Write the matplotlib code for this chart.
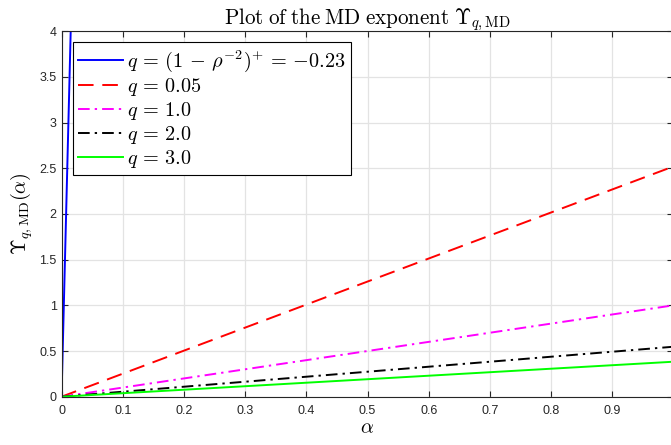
import matplotlib
matplotlib.use('Agg')
import matplotlib.pyplot as plt

plt.rcParams['mathtext.fontset'] = 'cm'
plt.rcParams['font.family'] = ['Liberation Sans', 'DejaVu Sans']

# exponent values read at alpha = 0 and alpha = 1 (curves are straight lines)
alpha = [0.0, 1.0]
y_neg = [0.0, 267.0]     # q = (1-rho^-2)^+ = -0.23, leaves the box almost at once
y_005 = [0.0, 2.52]
y_1 = [0.0, 1.0]
y_2 = [0.0, 0.547]
y_3 = [0.0, 0.383]

labels = [r'$q\,=\,(1\,-\,\rho^{-2})^{+}\,=\,{-}0.23$', r'$q\,=\,0.05$', r'$q\,=\,1.0$',
          r'$q\,=\,2.0$', r'$q\,=\,3.0$']

fig = plt.figure(figsize=(6.71, 4.45), dpi=100)
ax = fig.add_axes([0.0917, 0.1085, 0.912, 0.8215])

ax.plot(alpha, y_neg, color='#0000ff', lw=1.4, label=labels[0])
ax.plot(alpha, y_005, color='#ff0000', lw=1.4, dashes=(8, 4.5), label=labels[1])
ax.plot(alpha, y_1, color='#ff00ff', lw=1.4, dashes=(6, 2.6, 1.2, 2.6), label=labels[2])
ax.plot(alpha, y_2, color='black', lw=1.4, dashes=(6, 2.6, 1.2, 2.6), label=labels[3])
ax.plot(alpha, y_3, color='#00ff00', lw=1.4, label=labels[4])

ax.set_xlim(0, 1)
ax.set_ylim(0, 4)
ax.set_xticks([0, 0.1, 0.2, 0.3, 0.4, 0.5, 0.6, 0.7, 0.8, 0.9, 1])
ax.set_xticklabels(['0', '0.1', '0.2', '0.3', '0.4', '0.5', '0.6', '0.7', '0.8', '0.9', '1'])
ax.set_yticks([0, 0.5, 1, 1.5, 2, 2.5, 3, 3.5, 4])
ax.set_yticklabels(['0', '0.5', '1', '1.5', '2', '2.5', '3', '3.5', '4'])

ax.grid(True, color='#e3e3e3', lw=0.9)
ax.set_axisbelow(True)
for s in ax.spines.values():
    s.set_color('#262626')
    s.set_linewidth(0.8)
ax.tick_params(direction='in', length=4, width=0.8, colors='#262626',
               labelsize=9, top=True, right=True)
ax.tick_params(axis='x', pad=6)

ax.set_title(r'$\mathrm{Plot\;of\;the\;MD\;exponent}\;\Upsilon_{q,\mathrm{MD}}$',
             fontsize=15.2, pad=5)
ax.set_xlabel(r'$\alpha$', fontsize=14.5, labelpad=1)
ax.set_ylabel(r'$\Upsilon_{q,\mathrm{MD}}(\alpha)$', fontsize=14.5, labelpad=3)

leg = ax.legend(loc='upper left', fontsize=14.6, frameon=True, fancybox=False,
                edgecolor='black', framealpha=1, handlelength=2.2,
                handletextpad=0.2, borderpad=0.28, labelspacing=0.1,
                borderaxespad=0.55)
leg.get_frame().set_linewidth(0.8)

fig.savefig('out.png', dpi=100)
